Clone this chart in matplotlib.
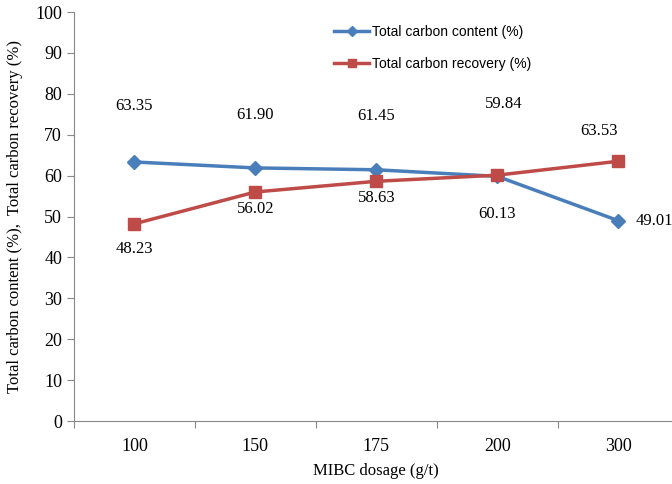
import matplotlib.pyplot as plt

dosage = ['100', '150', '175', '200', '300']
carbon_content = [63.35, 61.90, 61.45, 59.84, 49.01]
carbon_recovery = [48.23, 56.02, 58.63, 60.13, 63.53]

blue = '#4A7EBB'
red = '#BE4B48'
serif = ['Liberation Serif', 'DejaVu Serif']

fig = plt.figure(figsize=(6.72, 4.84), dpi=100)
ax = fig.add_axes([0.110, 0.130, 0.900, 0.845])

x = list(range(len(dosage)))
ax.plot(x, carbon_content, color=blue, lw=2.5, marker='D', ms=7,
        label='Total carbon content (%)')
ax.plot(x, carbon_recovery, color=red, lw=2.5, marker='s', ms=8,
        label='Total carbon recovery (%)')

# label offsets in points
content_off = [(0, 40), (0, 38), (0, 39), (5, 52), (26, 0)]
recovery_off = [(0, -18), (0, -12), (0, -12), (0, -28), (-14, 22)]
for i, v in enumerate(carbon_content):
    ax.annotate(f'{v:.2f}', (i, v), xytext=content_off[i], textcoords='offset points',
                ha='center', va='center', fontsize=12, family=serif)
for i, v in enumerate(carbon_recovery):
    ax.annotate(f'{v:.2f}', (i, v), xytext=recovery_off[i], textcoords='offset points',
                ha='center', va='center', fontsize=12, family=serif)

ax.set_xlim(-0.5, 4.5)
ax.set_ylim(0, 100)
ax.set_yticks(range(0, 101, 10))
ax.set_xticks([i - 0.5 for i in range(6)])
ax.set_xticklabels([])
ax.set_xticks(x, minor=True)
ax.set_xticklabels(dosage, minor=True)
ax.tick_params(axis='x', which='minor', length=0, pad=12)
ax.tick_params(axis='x', which='major', length=5, color='#888888')
ax.tick_params(axis='y', length=5, color='#888888')
for lab in ax.get_xticklabels(minor=True) + ax.get_yticklabels():
    lab.set_family(serif)
    lab.set_fontsize(13)

for s in ['top', 'right']:
    ax.spines[s].set_visible(False)
for s in ['left', 'bottom']:
    ax.spines[s].set_color('#888888')

ax.set_xlabel('MIBC dosage (g/t)', family=serif, fontsize=12, labelpad=6)
ax.set_ylabel('Total carbon content (%),  Total carbon recovery (%)', family=serif,
              fontsize=12, labelpad=9)

leg = ax.legend(loc='upper left', bbox_to_anchor=(0.41, 1.0), frameon=False,
                prop={'family': ['Liberation Sans', 'DejaVu Sans'], 'size': 10},
                labelspacing=1.35, handlelength=2.5, handletextpad=0.2,
                markerscale=0.75)

fig.savefig('out.png', dpi=100)
